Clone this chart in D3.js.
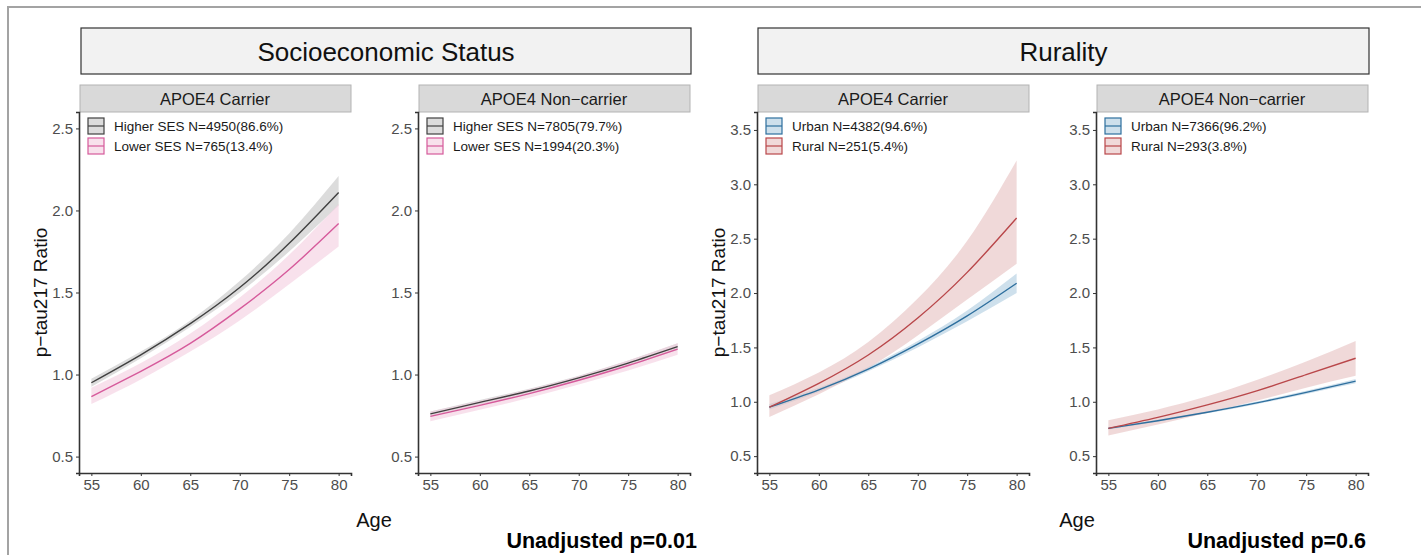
<!DOCTYPE html>
<html>
<head>
<meta charset="utf-8">
<script src="https://cdn.jsdelivr.net/npm/d3@7"></script>
<style>
  html, body { margin: 0; padding: 0; background: #fff; }
  svg { display: block; font-family: "Liberation Sans", Arial, Helvetica, sans-serif; }
</style>
</head>
<body>
<svg id="chart" width="1421" height="555"></svg>
<script>
// Predicted p-tau217 ratio by age, estimates at 5-year steps with 95% CI
const ages = [55, 60, 65, 70, 75, 80];
const xTicks = [55, 60, 65, 70, 75, 80];
const sesYTicks = [0.5, 1.0, 1.5, 2.0, 2.5];
const ruralYTicks = [0.5, 1.0, 1.5, 2.0, 2.5, 3.0, 3.5];

const groupTitles = ["Socioeconomic Status", "Rurality"];
const panelTitles = ["APOE4 Carrier", "APOE4 Non\u2212carrier", "APOE4 Carrier", "APOE4 Non\u2212carrier"];
const pValueLabels = ["Unadjusted p=0.01", "Unadjusted p=0.6"];

// SES, APOE4 carriers
const sesCarHigher   = [0.950, 1.12, 1.31, 1.53, 1.80, 2.11];
const sesCarHigherLo = [0.925, 1.10, 1.29, 1.50, 1.75, 2.03];
const sesCarHigherHi = [0.975, 1.14, 1.33, 1.57, 1.86, 2.21];
const sesCarLower    = [0.865, 1.02, 1.19, 1.40, 1.64, 1.92];
const sesCarLowerLo  = [0.82, 0.97, 1.14, 1.33, 1.55, 1.78];
const sesCarLowerHi  = [0.92, 1.07, 1.25, 1.47, 1.73, 2.04];

// SES, APOE4 non-carriers
const sesNonHigher   = [0.760, 0.83, 0.90, 0.98, 1.07, 1.17];
const sesNonHigherLo = [0.745, 0.815, 0.888, 0.968, 1.055, 1.15];
const sesNonHigherHi = [0.775, 0.845, 0.913, 0.993, 1.085, 1.19];
const sesNonLower    = [0.745, 0.812, 0.884, 0.965, 1.055, 1.155];
const sesNonLowerLo  = [0.715, 0.785, 0.858, 0.94, 1.025, 1.12];
const sesNonLowerHi  = [0.775, 0.84, 0.91, 0.99, 1.085, 1.19];

// Rurality, APOE4 carriers
const rurCarUrban    = [0.95, 1.11, 1.30, 1.53, 1.79, 2.09];
const rurCarUrbanLo  = [0.93, 1.09, 1.28, 1.50, 1.74, 2.00];
const rurCarUrbanHi  = [0.98, 1.13, 1.32, 1.56, 1.84, 2.18];
const rurCarRural    = [0.95, 1.17, 1.43, 1.77, 2.19, 2.69];
const rurCarRuralLo  = [0.86, 1.07, 1.31, 1.61, 1.94, 2.27];
const rurCarRuralHi  = [1.06, 1.27, 1.55, 1.95, 2.48, 3.22];

// Rurality, APOE4 non-carriers
const rurNonUrban    = [0.755, 0.826, 0.904, 0.99, 1.087, 1.19];
const rurNonUrbanLo  = [0.745, 0.816, 0.894, 0.978, 1.072, 1.17];
const rurNonUrbanHi  = [0.765, 0.836, 0.914, 1.002, 1.102, 1.21];
const rurNonRural    = [0.755, 0.856, 0.971, 1.10, 1.25, 1.40];
const rurNonRuralLo  = [0.69, 0.79, 0.90, 1.01, 1.13, 1.24];
const rurNonRuralHi  = [0.83, 0.93, 1.05, 1.20, 1.37, 1.56];

const legendLabels = [
  ["Higher SES N=4950(86.6%)", "Lower SES N=765(13.4%)"],
  ["Higher SES N=7805(79.7%)", "Lower SES N=1994(20.3%)"],
  ["Urban N=4382(94.6%)", "Rural N=251(5.4%)"],
  ["Urban N=7366(96.2%)", "Rural N=293(3.8%)"]
];

const colors = {
  higher: { line: "#404040", fill: "#c4c4c4" },
  lower:  { line: "#d65a9b", fill: "#f3cde0" },
  urban:  { line: "#2e6f9e", fill: "#aecbdf" },
  rural:  { line: "#b9474a", fill: "#e6bfc0" }
};

function rows(est, lo, hi) {
  return ages.map((a, i) => ({ age: a, est: est[i], lo: lo[i], hi: hi[i] }));
}

const panels = [
  { left: 79, yDomain: [0.40, 2.60], yTicks: sesYTicks, yTitle: true,
    series: [
      { key: "higher", data: rows(sesCarHigher, sesCarHigherLo, sesCarHigherHi) },
      { key: "lower",  data: rows(sesCarLower,  sesCarLowerLo,  sesCarLowerHi) }
    ] },
  { left: 418, yDomain: [0.40, 2.60], yTicks: sesYTicks, yTitle: false,
    series: [
      { key: "higher", data: rows(sesNonHigher, sesNonHigherLo, sesNonHigherHi) },
      { key: "lower",  data: rows(sesNonLower,  sesNonLowerLo,  sesNonLowerHi) }
    ] },
  { left: 757, yDomain: [0.345, 3.665], yTicks: ruralYTicks, yTitle: true,
    series: [
      { key: "urban", data: rows(rurCarUrban, rurCarUrbanLo, rurCarUrbanHi) },
      { key: "rural", data: rows(rurCarRural, rurCarRuralLo, rurCarRuralHi) }
    ] },
  { left: 1096, yDomain: [0.345, 3.665], yTicks: ruralYTicks, yTitle: false,
    series: [
      { key: "urban", data: rows(rurNonUrban, rurNonUrbanLo, rurNonUrbanHi) },
      { key: "rural", data: rows(rurNonRural, rurNonRuralLo, rurNonRuralHi) }
    ] }
];

const svg = d3.select("#chart");
const panelW = 272, panelTop = 112, panelBottom = 473;

// outer frame
svg.append("rect")
  .attr("x", 8).attr("y", 7).attr("width", 1440).attr("height", 600)
  .attr("fill", "none").attr("stroke", "#a3a3a3").attr("stroke-width", 2);

// group header strips
[{ x: 81, w: 610 }, { x: 758, w: 611 }].forEach((g, i) => {
  svg.append("rect").attr("x", g.x).attr("y", 28).attr("width", g.w).attr("height", 46)
    .attr("fill", "#f2f2f2").attr("stroke", "#333").attr("stroke-width", 1.2);
  svg.append("text").attr("x", g.x + g.w / 2).attr("y", 52)
    .attr("text-anchor", "middle").attr("dominant-baseline", "central")
    .attr("font-size", 26).attr("fill", "#111").text(groupTitles[i]);
});

panels.forEach((p, pi) => {
  const x = d3.scaleLinear().domain([53.75, 81.25]).range([p.left, p.left + panelW]);
  const y = d3.scaleLinear().domain(p.yDomain).range([panelBottom, panelTop]);
  const g = svg.append("g");

  // panel strip
  g.append("rect").attr("x", p.left + 1).attr("y", 85).attr("width", panelW - 1).attr("height", 27)
    .attr("fill", "#d9d9d9").attr("stroke", "#b3b3b3").attr("stroke-width", 1);
  g.append("text").attr("x", p.left + panelW / 2).attr("y", 99)
    .attr("text-anchor", "middle").attr("dominant-baseline", "central")
    .attr("font-size", 16.5).attr("fill", "#1a1a1a").text(panelTitles[pi]);

  // ribbons then lines
  const area = d3.area().curve(d3.curveNatural)
    .x(d => x(d.age)).y0(d => y(d.lo)).y1(d => y(d.hi));
  const line = d3.line().curve(d3.curveNatural)
    .x(d => x(d.age)).y(d => y(d.est));
  p.series.forEach(s => {
    g.append("path").datum(s.data).attr("d", area)
      .attr("fill", colors[s.key].fill).attr("fill-opacity", 0.6);
  });
  p.series.forEach(s => {
    g.append("path").datum(s.data).attr("d", line)
      .attr("fill", "none").attr("stroke", colors[s.key].line).attr("stroke-width", 1.4);
  });

  // axes
  const xAxis = g.append("g").attr("transform", `translate(0,${panelBottom})`)
    .call(d3.axisBottom(x).tickValues(xTicks).tickSize(3).tickPadding(3));
  const yAxis = g.append("g").attr("transform", `translate(${p.left},0)`)
    .call(d3.axisLeft(y).tickValues(p.yTicks).tickFormat(d3.format(".1f")).tickSize(3).tickPadding(3));
  [xAxis, yAxis].forEach(ax => {
    ax.select(".domain").attr("stroke", "#333").attr("stroke-width", 1.6);
    ax.selectAll(".tick line").attr("stroke", "#333");
    ax.selectAll(".tick text").attr("fill", "#4d4d4d").attr("font-size", 15)
      .attr("font-family", "Liberation Sans, Arial, sans-serif");
  });

  // legend
  p.series.forEach((s, si) => {
    const ky = 118 + si * 20;
    const kx = p.left + 9;
    g.append("rect").attr("x", kx).attr("y", ky).attr("width", 16).attr("height", 16)
      .attr("fill", colors[s.key].fill).attr("fill-opacity", 0.6)
      .attr("stroke", colors[s.key].line).attr("stroke-width", 1.2);
    g.append("line").attr("x1", kx).attr("x2", kx + 16).attr("y1", ky + 8).attr("y2", ky + 8)
      .attr("stroke", colors[s.key].line).attr("stroke-width", 1.2);
    g.append("text").attr("x", kx + 26).attr("y", ky + 8)
      .attr("dominant-baseline", "central").attr("font-size", 13.5).attr("fill", "#1a1a1a")
      .text(legendLabels[pi][si]);
  });

  if (p.yTitle) {
    g.append("text")
      .attr("transform", `translate(${p.left - 39},${(panelTop + panelBottom) / 2}) rotate(-90)`)
      .attr("text-anchor", "middle").attr("dominant-baseline", "central")
      .attr("font-size", 19).attr("fill", "#111").text("p\u2212tau217 Ratio");
  }
});

// shared x titles and p-values
[{ cx: 374, px: 697 }, { cx: 1077, px: 1366 }].forEach((t, i) => {
  svg.append("text").attr("x", t.cx).attr("y", 520)
    .attr("text-anchor", "middle").attr("dominant-baseline", "central")
    .attr("font-size", 20).attr("fill", "#111").text("Age");
  svg.append("text").attr("x", t.px).attr("y", 548)
    .attr("text-anchor", "end").attr("font-size", 21.5).attr("font-weight", "bold")
    .attr("fill", "#000").text(pValueLabels[i]);
});
</script>
</body>
</html>
